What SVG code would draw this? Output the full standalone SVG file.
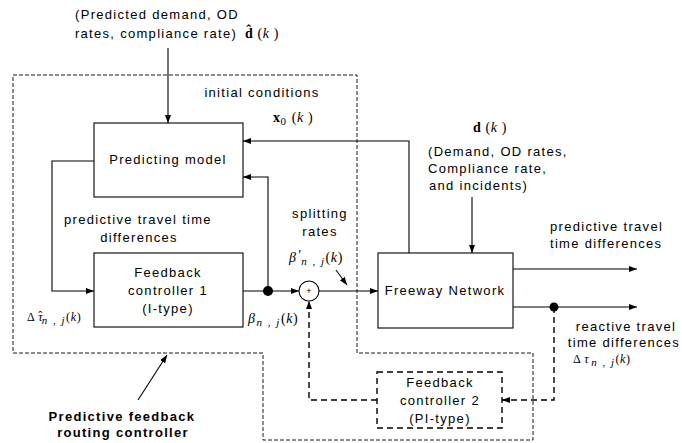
<svg xmlns="http://www.w3.org/2000/svg" width="682" height="443" viewBox="0 0 682 443">
<style>
text{font-family:"Liberation Sans",Arial,sans-serif;font-size:13px;letter-spacing:1.3px;fill:#000}
.m{font-family:"Liberation Serif","Times New Roman",serif;font-size:14px;letter-spacing:0.6px}
.b{font-weight:bold}
.i{font-style:italic}
.s{font-size:11px;letter-spacing:1.5px}
.box{fill:#fff;stroke:#000;stroke-width:1.1}
.ln{fill:none;stroke:#000;stroke-width:1.1}
.dl{fill:none;stroke:#000;stroke-width:1.4;stroke-dasharray:6,4}
.outer{fill:none;stroke:#000;stroke-width:0.9;stroke-dasharray:4,2}
</style>
<defs>
<marker id="ah" markerWidth="8" markerHeight="6" refX="8" refY="3" orient="auto" markerUnits="userSpaceOnUse">
<path d="M0,0 L8,3 L0,6 Z" fill="#000"/>
</marker>
</defs>
<rect width="682" height="443" fill="#fff"/>
<g id="boundary">
<path class="outer" d="M13,75 H357 V353 H533 V440 H263 V353 H13 Z"/>
</g>
<g id="predicting-model">
<rect class="box" x="94" y="123" width="149" height="74"/>
<text x="168" y="164" text-anchor="middle">Predicting model</text>
</g>
<g id="feedback-controller-1">
<rect class="box" x="94" y="253" width="149" height="74"/>
<text x="168" y="277" text-anchor="middle">Feedback</text>
<text x="168" y="295" text-anchor="middle">controller 1</text>
<text x="168" y="313" text-anchor="middle">(I-type)</text>
</g>
<g id="freeway-network">
<rect class="box" x="378" y="253" width="135" height="75"/>
<text x="445" y="295" text-anchor="middle">Freeway Network</text>
</g>
<g id="feedback-controller-2">
<rect x="377" y="372" width="125" height="56" fill="#fff" stroke="#000" stroke-width="1.4" stroke-dasharray="6,4"/>
<text x="440" y="387" text-anchor="middle">Feedback</text>
<text x="440" y="405" text-anchor="middle">controller 2</text>
<text x="440" y="423" text-anchor="middle">(PI-type)</text>
</g>
<g id="sum">
<circle cx="309" cy="291" r="10" fill="#fff" stroke="#000" stroke-width="1.1"/>
<text x="309" y="294" text-anchor="middle" style="font-size:9px;letter-spacing:0">+</text>
</g>
<g id="connectors">
<path class="ln" d="M168,48 V123" marker-end="url(#ah)"/>
<path class="ln" d="M409,253 V141 H243" marker-end="url(#ah)"/>
<path class="ln" d="M472,197 V253" marker-end="url(#ah)"/>
<path class="ln" d="M94,161 H52 V291 H94" marker-end="url(#ah)"/>
<path class="ln" d="M243,291 H299" marker-end="url(#ah)"/>
<path class="ln" d="M268,291 V177 H243" marker-end="url(#ah)"/>
<path class="ln" d="M319,291 H378" marker-end="url(#ah)"/>
<path class="ln" d="M336,270 L347,285" marker-end="url(#ah)"/>
<path class="ln" d="M513,269 H637" marker-end="url(#ah)"/>
<path class="ln" d="M513,307 H637" marker-end="url(#ah)"/>
<path class="dl" d="M554,307 V400 H502" marker-end="url(#ah)"/>
<path class="dl" d="M377,400 H309 V301" marker-end="url(#ah)"/>
<path class="ln" d="M138,400 L167,355" marker-end="url(#ah)"/>
<circle cx="268" cy="291" r="5" fill="#000"/>
<circle cx="554" cy="307" r="4.5" fill="#000"/>
</g>
<g id="labels">
<text x="157" y="19" text-anchor="middle">(Predicted demand, OD</text>
<text x="156" y="38" text-anchor="middle">rates, compliance rate)</text>
<text class="m" x="245" y="38"><tspan class="b">d̂</tspan> (<tspan class="i">k</tspan> )</text>
<text x="262" y="97" text-anchor="middle">initial conditions</text>
<text class="m" x="273" y="122"><tspan class="b">x</tspan><tspan class="s" dy="3">0</tspan><tspan dy="-3"> (</tspan><tspan class="i">k</tspan> )</text>
<text class="m" x="473" y="132"><tspan class="b">d</tspan> (<tspan class="i">k</tspan> )</text>
<text x="428" y="156">(Demand, OD rates,</text>
<text x="428" y="173">Compliance rate,</text>
<text x="429" y="190">and incidents)</text>
<text x="138" y="224" text-anchor="middle">predictive travel time</text>
<text x="139" y="242" text-anchor="middle">differences</text>
<text x="320" y="218" text-anchor="middle">splitting</text>
<text x="320" y="236" text-anchor="middle">rates</text>
<text class="m" x="289" y="262"><tspan class="i">β</tspan><tspan class="i" dx="1" dy="-2">′</tspan><tspan class="i s" dy="5">n , j</tspan><tspan dy="-3">(</tspan><tspan class="i">k</tspan>)</text>
<text class="m" x="248" y="323"><tspan class="i">β</tspan><tspan class="i s" dx="1" dy="3">n , j</tspan><tspan dy="-3">(</tspan><tspan class="i">k</tspan>)</text>
<text class="m" x="27" y="321" style="font-size:12px">Δ <tspan class="i">τ</tspan><tspan dx="-5" dy="-1">ˆ</tspan><tspan class="i s" dx="-1" dy="4">n , j</tspan><tspan dy="-3">(</tspan><tspan class="i">k</tspan>)</text>
<text x="550" y="231">predictive travel</text>
<text x="550" y="248">time differences</text>
<text x="626" y="331" text-anchor="middle">reactive travel</text>
<text x="624" y="347" text-anchor="middle">time differences</text>
<text class="m" x="573" y="363" style="font-size:12px">Δ <tspan class="i">τ</tspan><tspan class="i s" dx="2" dy="3">n , j</tspan><tspan dy="-3">(</tspan><tspan class="i">k</tspan>)</text>
<text class="b" x="122" y="421" text-anchor="middle">Predictive feedback</text>
<text class="b" x="123" y="437" text-anchor="middle">routing controller</text>
</g>
</svg>
